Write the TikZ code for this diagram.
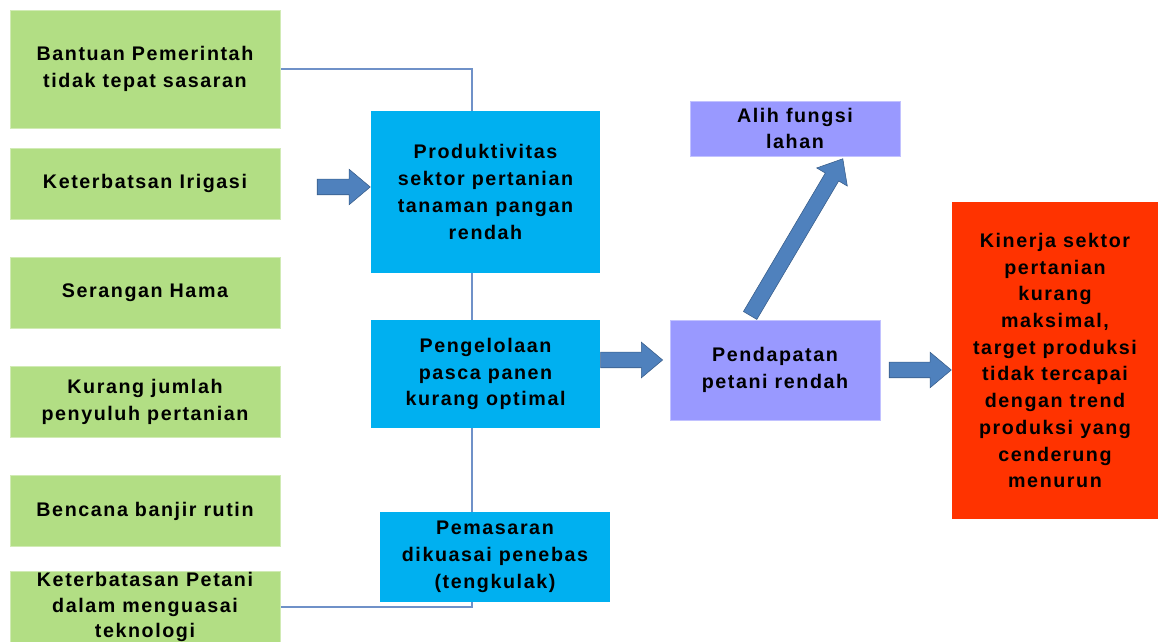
\documentclass[tikz,border=0pt]{standalone}
\usepackage{fontspec}
\setmainfont{Liberation Sans}[LetterSpace=8]
\usetikzlibrary{shapes.arrows,backgrounds}
\definecolor{hijau}{RGB}{178,222,132}
\definecolor{biru}{RGB}{0,176,240}
\definecolor{ungu}{RGB}{153,153,255}
\definecolor{merah}{RGB}{255,51,0}
\definecolor{panah}{RGB}{79,129,189}
\definecolor{panahtepi}{RGB}{56,93,138}
\definecolor{garis}{RGB}{111,145,200}

\begin{document}
\begin{tikzpicture}[x=0.025cm, y=-0.025cm, every node/.style={align=center, font=\fontsize{14}{19}\selectfont\bfseries}]
\tikzset{
  gstep/.style={fill=hijau, draw=hijau!60, minimum width=67.5mm, minimum height=17.75mm, inner sep=0pt},
  bstep/.style={fill=biru, minimum width=57.25mm, inner sep=0pt},
  pstep/.style={fill=ungu, draw=ungu!60, minimum width=52.5mm, inner sep=0pt},
  rstep/.style={fill=merah, minimum width=51.5mm, minimum height=79.25mm, inner sep=0pt},
  fatarr/.style={single arrow, fill=panah, draw=panahtepi, minimum width=8.75mm, single arrow head extend=2.5mm, single arrow tip angle=80, inner xsep=0pt, inner ysep=1.875mm}
}
\clip (0,0) rectangle (1160,642);

% Penyebab (kiri)
\node[gstep, minimum height=29.5mm] (c_bantuan) at (145,69) {Bantuan Pemerintah\\tidak tepat sasaran};
\node[gstep] (c_irigasi) at (145,183.5) {Keterbatsan Irigasi};
\node[gstep] (c_hama) at (145,292.5) {Serangan Hama};
\node[gstep] (c_penyuluh) at (145,402) {Kurang jumlah\\penyuluh pertanian};
\node[gstep] (c_banjir) at (145,511) {Bencana banjir rutin};
\node[gstep, font=\fontsize{14}{18}\selectfont\bfseries] (c_teknologi) at (145,607) {Keterbatasan Petani\\dalam menguasai\\teknologi};

% Masalah (tengah)
\node[bstep, minimum height=40.5mm] (m_produk) at (485.5,192) {Produktivitas\\sektor pertanian\\tanaman pangan\\rendah};
\node[bstep, minimum height=27mm] (m_pasca) at (485.5,374) {Pengelolaan\\pasca panen\\kurang optimal};
\node[bstep, minimum width=57.5mm, minimum height=22.5mm] (m_pasar) at (495,557) {Pemasaran\\dikuasai penebas\\(tengkulak)};

% Dampak (kanan)
\node[pstep, minimum height=13.75mm] (p_alih) at (795,128.5) {Alih fungsi\\lahan};
\node[pstep, minimum height=25mm] (p_pendapatan) at (775,370) {Pendapatan\\petani rendah};
\node[rstep] (r_kinerja) at (1055,360.5) {Kinerja sektor\\pertanian\\kurang\\maksimal,\\target produksi\\tidak tercapai\\dengan trend\\produksi yang\\cenderung\\menurun};

% Garis penghubung
\coordinate (spine) at (472,0);
\begin{pgfonlayer}{background}
\draw[garis, line width=1pt] (c_bantuan.east) -| (spine |- c_teknologi.east) -- (c_teknologi.east);
\end{pgfonlayer}

% Panah
\node[fatarr, minimum height=13.25mm, anchor=tip] (a_produk) at ([yshift=1.25mm]m_produk.west) {};
\node[fatarr, minimum height=15.5mm, anchor=tail] (a_pasca) at ([yshift=3.5mm]m_pasca.east) {};
\node[fatarr, minimum height=15.5mm, anchor=tip] (a_kinerja) at (r_kinerja.west |- p_pendapatan.east) {};
\node[fatarr, minimum height=45.5mm, rotate=59.4, anchor=tail] (a_alih) at ([xshift=-6.25mm,yshift=1mm]p_pendapatan.north) {};

\end{tikzpicture}
\end{document}
